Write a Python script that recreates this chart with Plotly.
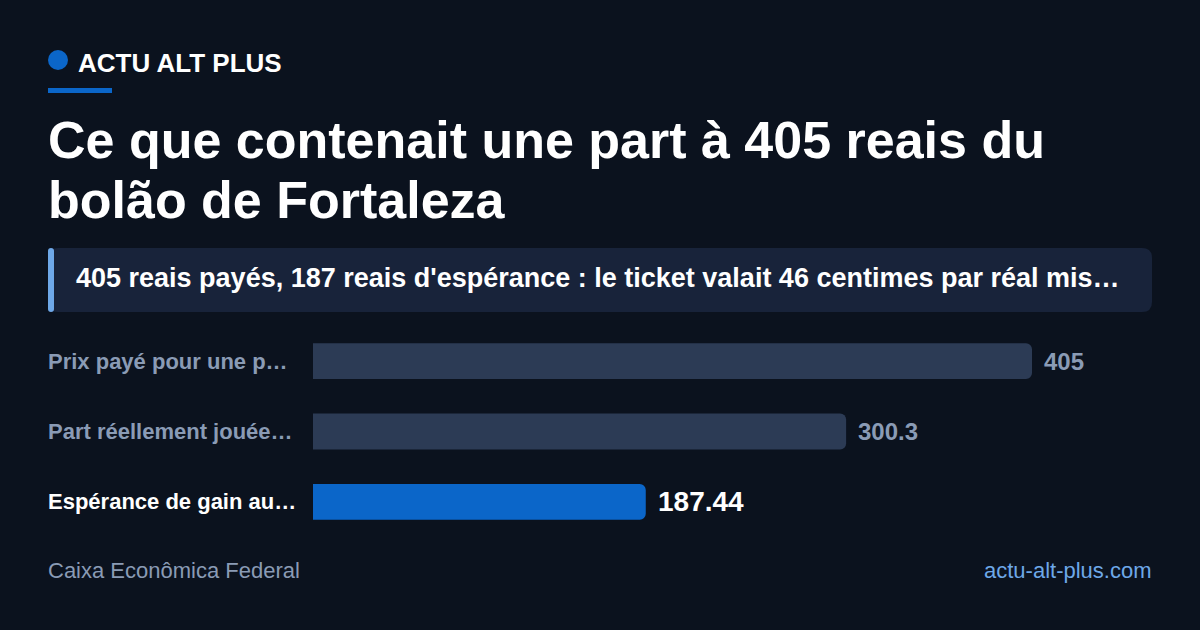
import plotly.graph_objects as go

labels_full = ["Prix payé pour une part", "Part réellement jouée", "Espérance de gain au tirage"]
labels_short = ["Prix payé pour une p…", "Part réellement jouée…", "Espérance de gain au…"]
values = [405, 300.3, 187.44]
value_text = ["405", "300.3", "187.44"]
colors = ["#2c3b55", "#2c3b55", "#0b66c9"]

W, H = 1200, 630
def px(x): return x / W
def py(y): return 1 - y / H

def rounded(x0, y0, x1, y1, r):
    X = lambda v: f"{px(v):.5f}"
    Y = lambda v: f"{py(v):.5f}"
    return (f"M{X(x0+r)},{Y(y0)} L{X(x1-r)},{Y(y0)} Q{X(x1)},{Y(y0)} {X(x1)},{Y(y0+r)} "
            f"L{X(x1)},{Y(y1-r)} Q{X(x1)},{Y(y1)} {X(x1-r)},{Y(y1)} L{X(x0+r)},{Y(y1)} "
            f"Q{X(x0)},{Y(y1)} {X(x0)},{Y(y1-r)} L{X(x0)},{Y(y0+r)} Q{X(x0)},{Y(y0)} {X(x0+r)},{Y(y0)} Z")

F = "Liberation Sans, Arial, sans-serif"
fig = go.Figure(go.Bar(
    x=values, y=labels_full, orientation="h",
    marker=dict(color=colors, line=dict(width=0)),
    hoverinfo="skip",
))
fig.update_layout(
    width=W, height=H, margin=dict(l=0, r=0, t=0, b=0),
    paper_bgcolor="#0b121e", plot_bgcolor="#0b121e",
    showlegend=False, bargap=0.49, barcornerradius=6,
    font=dict(family=F),
    xaxis=dict(domain=[px(313), px(1032)], range=[0, 405], visible=False, fixedrange=True),
    yaxis=dict(domain=[py(537), py(326)], autorange="reversed", visible=False,
               categoryorder="array", categoryarray=labels_full),
)
shapes = [
    dict(type="circle", xref="paper", yref="paper", x0=px(48), x1=px(68), y0=py(70), y1=py(50),
         fillcolor="#0b66c9", line=dict(width=0)),
    dict(type="rect", xref="paper", yref="paper", x0=px(48), x1=px(112), y0=py(93), y1=py(88),
         fillcolor="#0b66c9", line=dict(width=0)),
    dict(type="path", xref="paper", yref="paper", path=rounded(48, 248, 1152, 312, 10),
         fillcolor="#18233a", line=dict(width=0), layer="below"),
    dict(type="path", xref="paper", yref="paper", path=rounded(48, 248, 54, 312, 3),
         fillcolor="#6ea8e8", line=dict(width=0)),
]
ann = [
    dict(x=px(78), y=py(63), text="<b>ACTU ALT PLUS</b>", font=dict(size=26, color="white")),
    dict(x=px(48), y=py(140), text="<b>Ce que contenait une part à 405 reais du</b>", font=dict(size=52, color="white")),
    dict(x=px(48), y=py(200), text="<b>bolão de Fortaleza</b>", font=dict(size=52, color="white")),
    dict(x=px(76), y=py(278), text="<b>405 reais payés, 187 reais d'espérance : le ticket valait 46 centimes par réal mis…</b>",
         font=dict(size=27, color="white")),
    dict(x=px(48), y=py(570), text="Caixa Econômica Federal", font=dict(size=22, color="#8a9bb5")),
    dict(x=px(1152), y=py(570), text="actu-alt-plus.com", xanchor="right", xshift=2, font=dict(size=22, color="#6ea8e8")),
]
for a in ann:
    a.setdefault("xanchor", "left")
    a.setdefault("xshift", -2)
    a.update(xref="paper", yref="paper", yanchor="middle", showarrow=False)
rows = [361, 431, 502]
for i, (lab, v, t) in enumerate(zip(labels_short, values, value_text)):
    last = i == 2
    ann.append(dict(xref="paper", yref="paper", x=px(48), y=py(rows[i]), text=f"<b>{lab}</b>",
                    xanchor="left", yanchor="middle", showarrow=False, xshift=-2,
                    font=dict(size=22, color="white" if last else "#8a9bb5")))
    ann.append(dict(xref="x", yref="y", x=v, y=labels_full[i], text=f"<b>{t}</b>", xshift=10,
                    xanchor="left", yanchor="middle", showarrow=False,
                    font=dict(size=28 if last else 24, color="white" if last else "#8a9bb5")))
fig.update_layout(shapes=shapes, annotations=ann)
fig.write_html("out.html", config={"displayModeBar": False},
               post_script="document.body.style.margin='0';document.body.style.background='#0b121e';")
